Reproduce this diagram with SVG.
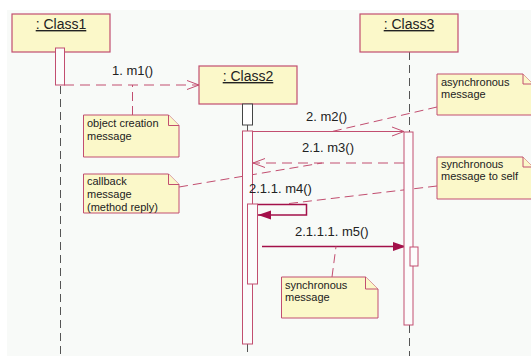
<svg xmlns="http://www.w3.org/2000/svg" width="531" height="356" viewBox="0 0 531 356">
  <style>
    .obj { fill: #fbf8c9; stroke: #c24e70; stroke-width: 1.2; }
    .objlabel { font-family: "Liberation Sans", Arial, sans-serif; font-size: 14px; fill: #222; text-anchor: middle; text-decoration: underline; }
    .msg { font-family: "Liberation Sans", Arial, sans-serif; font-size: 13px; fill: #222; }
    .note { fill: #fbf8c9; stroke: #c24e70; stroke-width: 1; }
    .notetext { font-family: "Liberation Sans", Arial, sans-serif; font-size: 11px; fill: #222; }
    .life { stroke: #555; stroke-width: 1; stroke-dasharray: 8 5; fill: none; }
    .act { fill: #fcfcfc; stroke: #c24e70; stroke-width: 1; }
    .async { stroke: #c24e70; stroke-width: 1; fill: none; }
    .dash { stroke: #c24e70; stroke-width: 1; stroke-dasharray: 10 6; fill: none; }
    .anchor { stroke: #c24e70; stroke-width: 1; stroke-dasharray: 9 5; fill: none; }
    .sync { stroke: #a3104a; stroke-width: 1.5; fill: none; }
  </style>
  <defs>
    <marker id="open" markerWidth="14" markerHeight="12" refX="12" refY="6" orient="auto" markerUnits="userSpaceOnUse">
      <path d="M0,1.5 L12,6 L0,10.5" fill="none" stroke="#c24e70" stroke-width="1"/>
    </marker>
    <marker id="filled" markerWidth="14" markerHeight="12" refX="13" refY="6" orient="auto" markerUnits="userSpaceOnUse">
      <path d="M0,1.5 L13,6 L0,10.5 Z" fill="#a3104a"/>
    </marker>
  </defs>

  <!-- canvas -->
  <rect x="0" y="0" width="531" height="356" fill="#ffffff"/>
  <rect x="7" y="10" width="524" height="346" fill="#f8faf8"/>

  <!-- lifelines and connectors -->
  <g id="connectors">
    <line class="life" x1="60.5" y1="86" x2="60.5" y2="356"/>
    <line class="life" x1="247.5" y1="125" x2="247.5" y2="131" stroke-dasharray="none"/>
    <line class="life" x1="247.5" y1="344" x2="247.5" y2="356"/>
    <line class="life" x1="409.5" y1="52" x2="409.5" y2="132"/>
    <line class="life" x1="409.5" y1="325" x2="409.5" y2="356"/>

    <!-- 1. m1() -->
    <line class="dash" x1="64" y1="85" x2="199" y2="85" marker-end="url(#open)"/>
    <!-- 2. m2() -->
    <line class="async" x1="253" y1="131.5" x2="404" y2="131.5" marker-end="url(#open)"/>
    <!-- 2.1. m3() -->
    <line class="dash" x1="404" y1="163" x2="253" y2="163" marker-end="url(#open)"/>
    <!-- 2.1.1. m4() self call -->
    <path class="sync" d="M257.5,204.5 H306.5 V215 H258" marker-end="url(#filled)"/>
    <!-- 2.1.1.1. m5() -->
    <line class="sync" x1="262" y1="246.5" x2="406" y2="246.5" marker-end="url(#filled)"/>

    <!-- note anchors -->
    <line class="anchor" x1="132.5" y1="115" x2="132.5" y2="85"/>
    <line class="anchor" x1="179" y1="187" x2="322" y2="163"/>
    <line class="anchor" x1="437" y1="107" x2="332" y2="131.5"/>
    <line class="anchor" x1="437" y1="186" x2="285" y2="204"/>
    <line class="anchor" x1="332" y1="277" x2="336" y2="246.5"/>
  </g>

  <!-- object boxes -->
  <g id="class1">
    <rect class="obj" x="12" y="14" width="98" height="38"/>
    <text class="objlabel" x="61" y="29">: Class1</text>
    <rect class="act" x="55.5" y="48" width="9" height="37"/>
  </g>
  <g id="class2">
    <rect class="obj" x="199" y="66" width="98" height="38"/>
    <text class="objlabel" x="248" y="81">: Class2</text>
    <rect x="242.5" y="104" width="10" height="21" fill="#ffffff" stroke="#444" stroke-width="1"/>
    <rect class="act" x="242.5" y="131" width="10" height="213"/>
    <rect class="act" x="247.5" y="204" width="10" height="80"/>
  </g>
  <g id="class3">
    <rect class="obj" x="360" y="14" width="98" height="38"/>
    <text class="objlabel" x="409" y="29">: Class3</text>
    <rect class="act" x="404" y="132" width="9" height="193"/>
    <rect class="act" x="410" y="247" width="8" height="19"/>
  </g>

  <!-- message labels -->
  <g id="labels">
    <text class="msg" x="112" y="75">1. m1()</text>
    <text class="msg" x="306" y="121">2. m2()</text>
    <text class="msg" x="302" y="152">2.1. m3()</text>
    <text class="msg" x="249" y="193">2.1.1. m4()</text>
    <text class="msg" x="295" y="236">2.1.1.1. m5()</text>
  </g>

  <!-- notes -->
  <g id="note-creation">
    <path class="note" d="M83.5,115 H168.5 L179,125.5 V157 H83.5 Z"/>
    <path class="note" d="M168.5,115 V125.5 H179" fill="none"/>
    <text class="notetext" x="87" y="127">object creation</text>
    <text class="notetext" x="87" y="140">message</text>
  </g>
  <g id="note-callback">
    <path class="note" d="M83.5,174 H168.5 L179,184.5 V213 H83.5 Z"/>
    <path class="note" d="M168.5,174 V184.5 H179" fill="none"/>
    <text class="notetext" x="87" y="185">callback</text>
    <text class="notetext" x="87" y="198">message</text>
    <text class="notetext" x="87" y="211">(method reply)</text>
  </g>
  <g id="note-async">
    <path class="note" d="M437,74 H523 L533,84 V115 H437 Z"/>
    <path class="note" d="M523,74 V84 H533" fill="none"/>
    <text class="notetext" x="441" y="86">asynchronous</text>
    <text class="notetext" x="441" y="98">message</text>
  </g>
  <g id="note-self">
    <path class="note" d="M437,157 H523 L533,167 V199 H437 Z"/>
    <path class="note" d="M523,157 V167 H533" fill="none"/>
    <text class="notetext" x="441" y="168">synchronous</text>
    <text class="notetext" x="441" y="180">message to self</text>
  </g>
  <g id="note-sync">
    <path class="note" d="M281.5,277 H365.5 L378,289 V318 H281.5 Z"/>
    <path class="note" d="M365.5,277 V289 H378" fill="none"/>
    <text class="notetext" x="285" y="289">synchronous</text>
    <text class="notetext" x="285" y="301">message</text>
  </g>
</svg>
